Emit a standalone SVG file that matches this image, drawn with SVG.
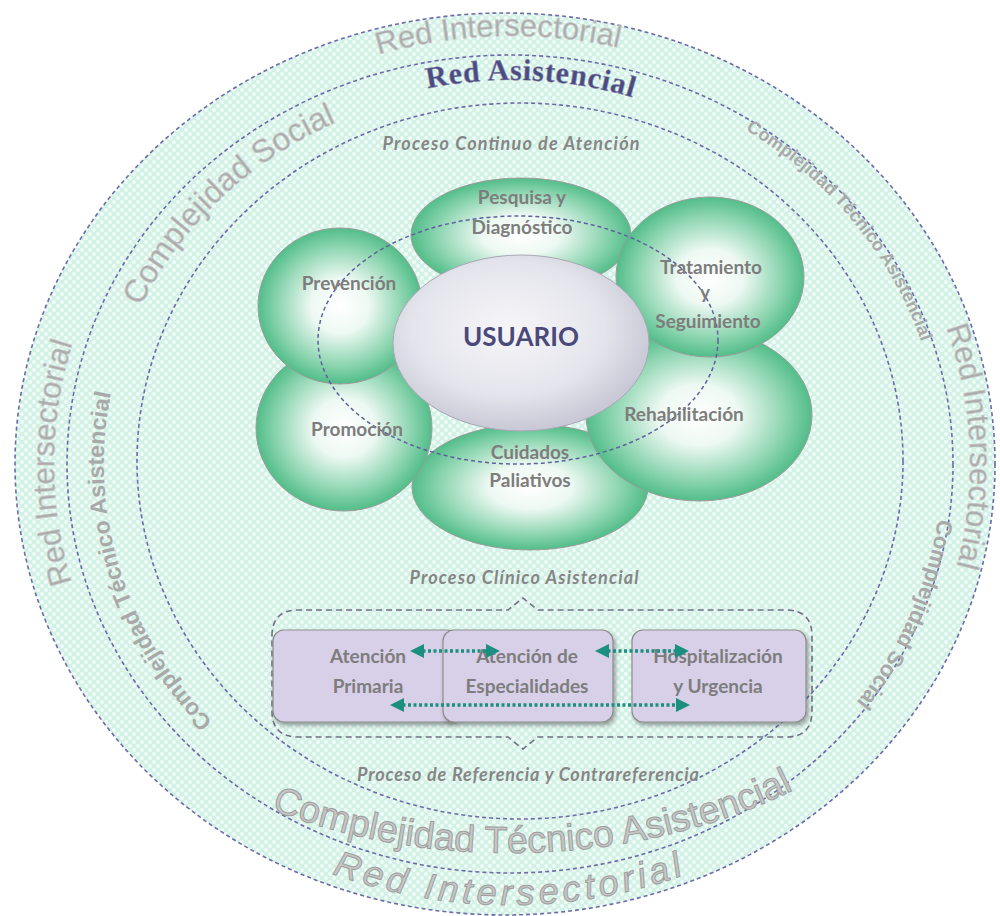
<svg xmlns="http://www.w3.org/2000/svg" width="1000" height="916" viewBox="0 0 1000 916">
<style>
.ring{fill:none;stroke:#6b6ba8;stroke-width:1.6;stroke-dasharray:4 3}
.wa{font-family:"Liberation Sans",Arial,sans-serif;fill:#acacac;stroke:#c8c8c8;stroke-width:0.6}
.wab{font-family:"Liberation Sans",Arial,sans-serif;font-weight:bold;fill:#a9a9a9}
.petal{stroke:#9c9c9c;stroke-width:1}
.lbl{font-family:Lato,"Liberation Sans",sans-serif;font-weight:700;font-size:19px;fill:#7d7d7d;text-anchor:middle}
.proc{font-family:Lato,"Liberation Sans",sans-serif;font-weight:700;font-style:italic;font-size:18px;fill:#868686;text-anchor:middle}
.box{fill:#d8cfe8;stroke:#8d8d8d;stroke-width:1.2}
.arr{fill:none;stroke:#1b8f80;stroke-width:3.5;stroke-dasharray:3 2.5;marker-start:url(#ah);marker-end:url(#ah)}
</style>
<defs>
<pattern id="dots" width="8" height="8" patternUnits="userSpaceOnUse">
<rect width="8" height="8" fill="#d3f2e6"/>
<circle cx="2" cy="2" r="1.9" fill="#f3fcf8"/>
<circle cx="6" cy="6" r="1.9" fill="#f3fcf8"/>
</pattern>
<radialGradient id="pg" cx="50%" cy="50%" r="50%">
<stop offset="0" stop-color="#ffffff"/>
<stop offset="0.35" stop-color="#eef9f3"/>
<stop offset="0.75" stop-color="#8fd6b2"/>
<stop offset="1" stop-color="#52bd89"/>
</radialGradient>
<radialGradient id="ug" cx="45%" cy="42%" r="58%">
<stop offset="0" stop-color="#f6f6f9"/>
<stop offset="0.65" stop-color="#e4e4ec"/>
<stop offset="1" stop-color="#c8c8d6"/>
</radialGradient>
<filter id="sh" x="-10%" y="-10%" width="125%" height="135%">
<feDropShadow dx="2" dy="3" stdDeviation="2" flood-color="#444" flood-opacity="0.5"/>
</filter>
<marker id="ah" viewBox="0 0 10 10" refX="5" refY="5" markerWidth="4" markerHeight="4" orient="auto-start-reverse">
<path d="M0,0 L10,5 L0,10 Z" fill="#1b8f80"/>
</marker>
<path id="band1" d="M512,892 A458,428 0 1 1 512,36 A458,428 0 1 1 512,892"/>
<path id="band2" d="M510,842 A406,378 0 1 1 510,86 A406,378 0 1 1 510,842"/>
<path id="band3" d="M512,862 A430,398 0 1 1 512,66 A430,398 0 1 1 512,862"/>
<path id="asis" d="M512,848 A405,384 0 1 1 512,80 A405,384 0 1 1 512,848"/>
<path id="bot1" d="M30,464 A480,441 0 0 0 990,464"/>
<path id="bot2" d="M-10,464 A520,389 0 0 0 1030,464"/>
</defs>

<g id="rings">
<ellipse cx="505" cy="464" rx="490" ry="451" fill="url(#dots)"/>
<ellipse class="ring" cx="505" cy="464" rx="490" ry="451"/>
<ellipse class="ring" cx="510" cy="464" rx="443" ry="409"/>
<ellipse class="ring" cx="520" cy="461" rx="383" ry="358"/>
</g>

<g id="ring-labels">
<text class="wa" font-size="31"><textPath href="#band1" startOffset="1378" text-anchor="middle">Red Intersectorial</textPath></text>
<text class="wa" font-size="31"><textPath href="#band1" startOffset="697" text-anchor="middle">Red Intersectorial</textPath></text>
<text class="wa" font-size="31"><textPath href="#band1" startOffset="2070" text-anchor="middle">Red Intersectorial</textPath></text>
<text font-family="'Liberation Serif',serif" font-weight="bold" font-size="30" letter-spacing="0.8" fill="#4b4b82" stroke="#9090b0" stroke-width="0.5"><textPath href="#asis" startOffset="1258" text-anchor="middle">Red Asistencial</textPath></text>
<text class="wa" font-size="32"><textPath href="#band2" startOffset="916" text-anchor="middle">Complejidad Social</textPath></text>
<text class="wab" font-size="18"><textPath href="#band3" startOffset="1686" text-anchor="middle">Complejidad Técnico Asistencial</textPath></text>
<text class="wab" font-size="23"><textPath href="#band2" startOffset="508" text-anchor="middle">Complejidad Técnico Asistencial</textPath></text>
<text class="wab" font-size="22"><textPath href="#band3" startOffset="2108" text-anchor="middle">Complejidad Social</textPath></text>
<text font-family="'Liberation Sans',Arial,sans-serif" font-size="37.5" fill="#c6c6c6" stroke="#9e9e9e" stroke-width="1"><textPath href="#bot2" startOffset="742" text-anchor="middle">Complejidad Técnico Asistencial</textPath></text>
<text font-family="'Liberation Sans',Arial,sans-serif" font-style="italic" font-size="36" letter-spacing="4.5" fill="#c6c6c6" stroke="#9e9e9e" stroke-width="1"><textPath href="#bot1" startOffset="50%" text-anchor="middle">Red Intersectorial</textPath></text>
</g>

<text class="proc" x="511" y="150" textLength="257">Proceso Continuo de Atención</text>

<g id="cuidados"><ellipse class="petal" cx="530" cy="487" rx="118" ry="63" fill="url(#pg)"/></g>
<g id="rehabilitacion"><ellipse class="petal" cx="699" cy="415" rx="113" ry="86" fill="url(#pg)"/></g>
<g id="promocion"><ellipse class="petal" cx="344" cy="428" rx="88" ry="83" fill="url(#pg)"/></g>
<g id="prevencion"><ellipse class="petal" cx="340" cy="306" rx="82" ry="78" fill="url(#pg)"/></g>
<g id="pesquisa"><ellipse class="petal" cx="521" cy="235" rx="110" ry="57" fill="url(#pg)"/></g>
<g id="tratamiento"><ellipse class="petal" cx="710" cy="277" rx="94" ry="80" fill="url(#pg)" stroke="#555"/></g>

<ellipse cx="518" cy="340" rx="200" ry="124" fill="none" stroke="#6060a0" stroke-width="1.5" stroke-dasharray="4 3"/>

<g id="usuario">
<ellipse cx="521" cy="343" rx="128" ry="88" fill="url(#ug)" stroke="#a8a8b4" stroke-width="1"/>
<text x="521" y="346" font-family="Lato,'Liberation Sans',sans-serif" font-weight="700" font-size="26" fill="#4a4a7a" text-anchor="middle">USUARIO</text>
</g>

<g id="petal-labels">
<text class="lbl" x="522" y="204">Pesquisa y</text>
<text class="lbl" x="522" y="234">Diagnóstico</text>
<text class="lbl" x="349" y="290">Prevención</text>
<text class="lbl" x="711" y="274">Tratamiento</text>
<text class="lbl" x="705" y="299">y</text>
<text class="lbl" x="708" y="328">Seguimiento</text>
<text class="lbl" x="684" y="421">Rehabilitación</text>
<text class="lbl" x="357" y="436">Promoción</text>
<text class="lbl" x="530" y="459">Cuidados</text>
<text class="lbl" x="530" y="487">Paliativos</text>
</g>

<text class="proc" x="524" y="584" textLength="229">Proceso Clínico Asistencial</text>

<path d="M272,636 Q272,610 298,610 L508,610 L523,598 L538,610 L786,610 Q812,610 812,636 L812,711 Q812,737 786,737 L538,737 L523,749 L508,737 L298,737 Q272,737 272,711 Z" fill="none" stroke="#707084" stroke-width="1.6" stroke-dasharray="6 4"/>

<g id="atencion-primaria">
<rect class="box" x="273" y="630" width="185" height="92" rx="11" filter="url(#sh)"/>
<text class="lbl" x="368" y="663">Atención</text>
<text class="lbl" x="368" y="693">Primaria</text>
</g>
<g id="atencion-especialidades">
<rect class="box" x="443" y="630" width="170" height="92" rx="11" filter="url(#sh)"/>
<text class="lbl" x="527" y="663">Atención de</text>
<text class="lbl" x="527" y="693">Especialidades</text>
</g>
<g id="hospitalizacion">
<rect class="box" x="632" y="630" width="174" height="92" rx="11" filter="url(#sh)"/>
<text class="lbl" x="718" y="663">Hospitalización</text>
<text class="lbl" x="718" y="693">y Urgencia</text>
</g>

<g id="connectors">
<line class="arr" x1="417" y1="651" x2="493" y2="651"/>
<line class="arr" x1="602" y1="651" x2="682" y2="651"/>
<line class="arr" x1="397" y1="705" x2="683" y2="705"/>
</g>

<text class="proc" x="528" y="781" textLength="342">Proceso de Referencia y Contrareferencia</text>
</svg>
